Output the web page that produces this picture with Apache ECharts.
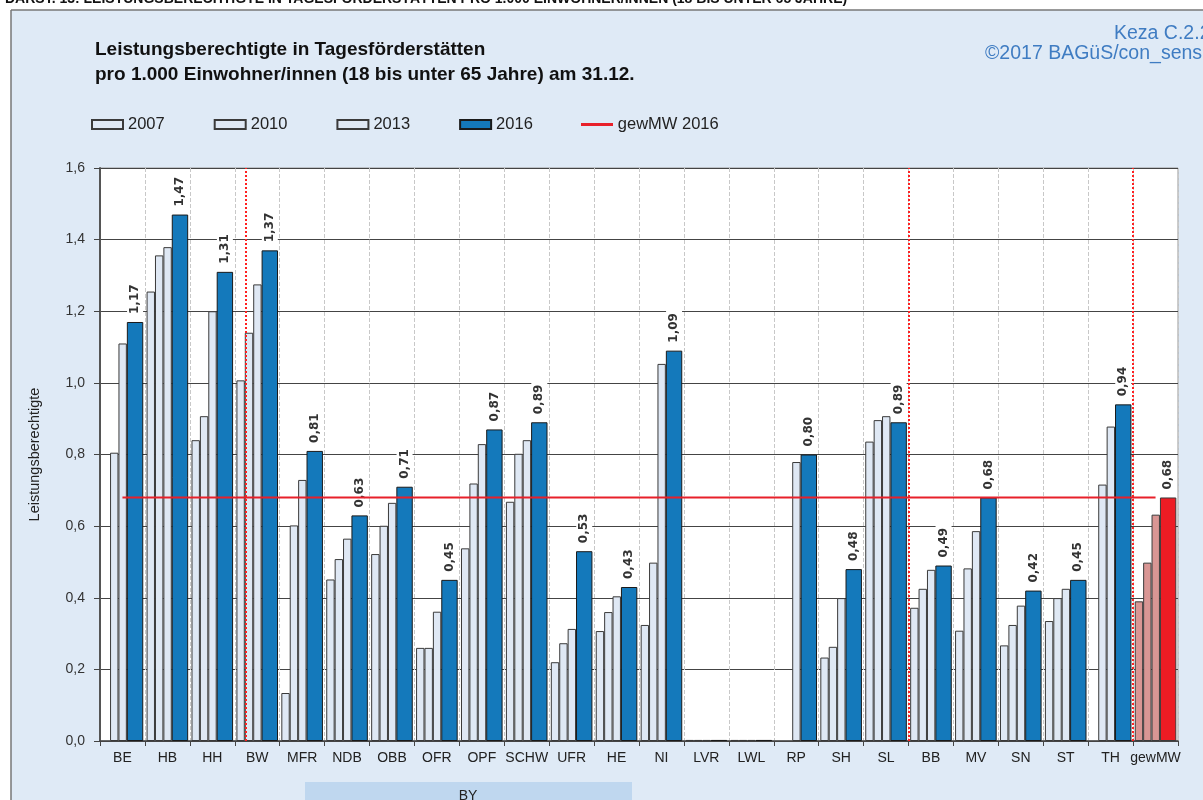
<!DOCTYPE html>
<html>
<head>
<meta charset="utf-8">
<script src="https://cdn.jsdelivr.net/npm/echarts@6/dist/echarts.min.js"></script>
<style>
  html, body { margin: 0; padding: 0; background: #fff; }
  #chart { width: 1203px; height: 800px; }
</style>
</head>
<body>
<div id="chart"></div>
<script>
// categories
var regions = ['BE','HB','HH','BW','MFR','NDB','OBB','OFR','OPF','SCHW','UFR','HE','NI','LVR','LWL','RP','SH','SL','BB','MV','SN','ST','TH','gewMW'];

// values per year (null = no value)
var v2007 = [null,1.255,0.84,1.007,0.134,0.451,0.522,0.26,0.538,0.668,0.22,0.307,0.324,0.003,0.003,null,0.233,0.836,0.372,0.308,0.267,0.335,null,0.39];
var v2010 = [0.805,1.356,0.907,1.14,0.602,0.508,0.601,0.26,0.719,0.802,0.273,0.36,0.498,0.003,0.003,null,0.263,0.896,0.425,0.482,0.324,0.399,0.716,0.498];
var v2013 = [1.11,1.379,1.20,1.275,0.729,0.565,0.665,0.361,0.829,0.84,0.313,0.404,1.053,0.003,0.003,0.779,0.399,0.907,0.478,0.586,0.378,0.425,0.878,0.632];
var v2016 = [1.17,1.47,1.31,1.37,0.81,0.63,0.71,0.45,0.87,0.89,0.53,0.43,1.09,0.003,0.003,0.80,0.48,0.89,0.49,0.68,0.42,0.45,0.94,0.68];
var gewMW2016 = [0.68,0.68,0.68,0.68,0.68,0.68,0.68,0.68,0.68,0.68,0.68,0.68,0.68,0.68,0.68,0.68,0.68,0.68,0.68,0.68,0.68,0.68,0.68,0.68];

// red dotted separators (category positions, value axis 0..24)
var separators = [3.25, 18, 23];

var chart = echarts.init(document.getElementById('chart'));

var lightBar = { color: '#dfe8f4', borderColor: '#3a3a3a', borderWidth: 1 };
var last = regions.length - 1;

function withMean(arr, col) {
    return arr.map(function (v, i) {
        if (i === last) {
            return { value: v, itemStyle: { color: col, borderColor: '#3a3a3a', borderWidth: 1 } };
        }
        return v;
    });
}

function comma(v, d) {
    return v.toFixed(d).replace('.', ',');
}

var option = {
    backgroundColor: '#dfeaf6',
    textStyle: { fontFamily: 'Liberation Sans, Arial, sans-serif' },
    animation: false,
    graphic: [
        { type: 'rect', shape: { x: 0, y: 0, width: 1203, height: 10 }, style: { fill: '#fff' }, silent: true },
        { type: 'rect', shape: { x: 0, y: 0, width: 11, height: 800 }, style: { fill: '#fff' }, silent: true },
        { type: 'text', left: 5, top: -8, style: { text: 'DARST. 13: LEISTUNGSBERECHTIGTE IN TAGESFÖRDERSTÄTTEN PRO 1.000 EINWOHNER/INNEN (18 BIS UNTER 65 JAHRE)', font: 'bold 14px Liberation Sans', fill: '#111' }, silent: true },
        { type: 'line', shape: { x1: 11, y1: 10, x2: 1203, y2: 10 }, style: { stroke: '#777', lineWidth: 1.5 }, silent: true },
        { type: 'line', shape: { x1: 11, y1: 10, x2: 11, y2: 800 }, style: { stroke: '#777', lineWidth: 1.5 }, silent: true },
        { type: 'text', left: 95, top: 40, style: { text: 'Leistungsberechtigte in Tagesförderstätten', font: 'bold 19px Liberation Sans', fill: '#111' }, silent: true },
        { type: 'text', left: 95, top: 65, style: { text: 'pro 1.000 Einwohner/innen (18 bis unter 65 Jahre) am 31.12.', font: 'bold 19px Liberation Sans', fill: '#111' }, silent: true },
        { type: 'text', left: 1114, top: 24, style: { text: 'Keza C.2.2', font: '19.5px Liberation Sans', fill: '#3f7cc2' }, silent: true },
        { type: 'text', left: 985, top: 44, style: { text: '©2017 BAGüS/con_sens', font: '19.5px Liberation Sans', fill: '#3f7cc2' }, silent: true },
        // legend line sample for the mean
        { type: 'line', shape: { x1: 581, y1: 124.5, x2: 613, y2: 124.5 }, style: { stroke: '#e8202a', lineWidth: 3 }, silent: true },
        { type: 'rect', shape: { x: 305, y: 782, width: 327, height: 20 }, style: { fill: '#bfd7ef' }, silent: true },
        { type: 'text', x: 468, y: 796, style: { text: 'BY', font: '14px Liberation Sans', fill: '#222', textAlign: 'center', textVerticalAlign: 'middle' }, silent: true }
    ],
    legend: {
        left: 86,
        top: 111,
        icon: 'rect',
        itemWidth: 31,
        itemHeight: 9,
        itemGap: 49,
        textStyle: { fontSize: 16.5, color: '#222' },
        data: ['2007', '2010', '2013', '2016', { name: 'gewMW 2016', icon: 'none' }]
    },
    grid: {
        left: 100,
        right: 25,
        top: 168,
        bottom: 59,
        show: true,
        backgroundColor: '#fff',
        borderColor: '#999',
        borderWidth: 1
    },
    xAxis: [
        {
            type: 'category',
            data: regions,
            axisLine: { lineStyle: { color: '#444', width: 1.5 } },
            axisTick: { show: true, length: 5, lineStyle: { color: '#444' } },
            axisLabel: { fontSize: 14, color: '#222', margin: 10, interval: 0 },
            splitLine: { show: true, lineStyle: { color: '#c8c8c8', type: 'dashed' } }
        },
        {
            type: 'value',
            min: 0,
            max: 24,
            show: false
        }
    ],
    yAxis: {
        type: 'value',
        min: 0,
        max: 1.6,
        interval: 0.2,
        name: 'Leistungsberechtigte',
        nameLocation: 'middle',
        nameGap: 58,
        nameTextStyle: { fontSize: 14.5, color: '#222' },
        axisLine: { show: true, lineStyle: { color: '#555', width: 2 } },
        axisTick: { show: true, length: 6, lineStyle: { color: '#444' } },
        axisLabel: { fontSize: 14, color: '#333', margin: 15, formatter: function (v) { return comma(v, 1); } },
        splitLine: { lineStyle: { color: '#444', width: 1 } }
    },
    series: [
        { name: '2007', type: 'bar', barWidth: 8.4, barGap: '0%', itemStyle: lightBar, data: withMean(v2007, '#d99694') },
        { name: '2010', type: 'bar', barWidth: 8.4, barGap: '0%', itemStyle: lightBar, data: withMean(v2010, '#d99694') },
        { name: '2013', type: 'bar', barWidth: 8.4, barGap: '0%', itemStyle: lightBar, data: withMean(v2013, '#d99694') },
        {
            name: '2016',
            type: 'bar',
            barWidth: 16.4,
            barGap: '0%',
            itemStyle: { color: '#1479bb', borderColor: '#1a1a1a', borderWidth: 1 },
            label: {
                show: true,
                position: 'top',
                rotate: 90,
                align: 'left',
                verticalAlign: 'middle',
                distance: 5,
                fontFamily: 'DejaVu Sans',
                fontWeight: 'bold',
                fontSize: 12,
                color: '#333',
                backgroundColor: '#fff',
                padding: [2, 3],
                formatter: function (p) { return p.value < 0.01 ? '' : comma(p.value, 2); }
            },
            data: withMean(v2016, '#ed1c24')
        },
        {
            name: 'gewMW 2016',
            type: 'line',
            symbol: 'none',
            z: 5,
            lineStyle: { color: '#e8202a', width: 2 },
            itemStyle: { color: '#e8202a' },
            data: gewMW2016
        },
        {
            name: 'sep',
            type: 'line',
            xAxisIndex: 1,
            data: [],
            z: 6,
            markLine: {
                silent: true,
                symbol: 'none',
                label: { show: false },
                lineStyle: { color: '#ff2020', type: 'dotted', width: 2 },
                data: separators.map(function (s) { return { xAxis: s }; })
            }
        }
    ]
};

chart.setOption(option);

window.addEventListener('resize', function () {
    chart.resize();
});
</script>
</body>
</html>
